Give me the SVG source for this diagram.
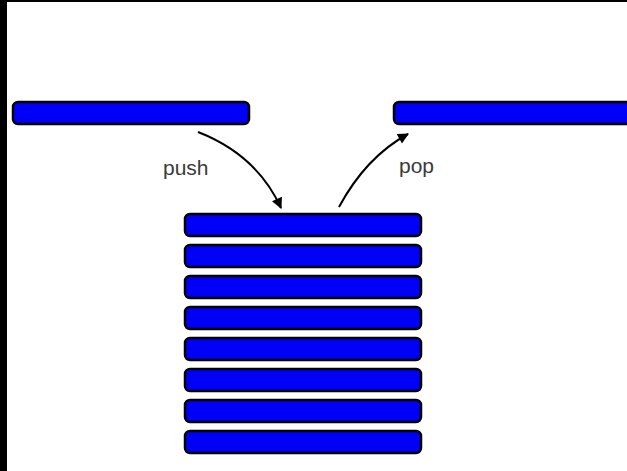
<svg xmlns="http://www.w3.org/2000/svg" width="627" height="471" viewBox="0 0 627 471">
  <style>
    .bar { fill: #0000f6; stroke: #000; stroke-width: 2.5; }
    .link { fill: none; stroke: #000; stroke-width: 2; }
    .label { font-family: "Liberation Sans", Arial, sans-serif; font-size: 21px; fill: #3a3a3a; }
  </style>
  <defs>
    <marker id="head" viewBox="0 0 10 10" refX="9" refY="5" markerWidth="6" markerHeight="5.5" markerUnits="strokeWidth" orient="auto">
      <path d="M0,0 L10,5 L0,10 Z" fill="#000"/>
    </marker>
  </defs>

  <!-- canvas and frame edges -->
  <rect x="0" y="0" width="627" height="471" fill="#fff"/>
  <rect x="0" y="0" width="627" height="2" fill="#000"/>
  <rect x="0" y="0" width="7" height="471" fill="#000"/>

  <!-- incoming item -->
  <g id="incoming">
    <rect class="bar" x="13" y="102" width="236" height="22" rx="5"/>
  </g>

  <!-- outgoing item -->
  <g id="outgoing">
    <rect class="bar" x="394" y="102" width="245" height="22" rx="5"/>
  </g>

  <!-- the stack -->
  <g id="stack">
    <rect class="bar" x="185" y="214" width="236" height="22" rx="5"/>
    <rect class="bar" x="185" y="245" width="236" height="22" rx="5"/>
    <rect class="bar" x="185" y="276" width="236" height="22" rx="5"/>
    <rect class="bar" x="185" y="307" width="236" height="22" rx="5"/>
    <rect class="bar" x="185" y="338" width="236" height="22" rx="5"/>
    <rect class="bar" x="185" y="369" width="236" height="22" rx="5"/>
    <rect class="bar" x="185" y="400" width="236" height="22" rx="5"/>
    <rect class="bar" x="185" y="431" width="236" height="22" rx="5"/>
  </g>

  <!-- push / pop connectors -->
  <g id="connectors">
    <path id="push-link" class="link" d="M198,132 Q257,155 281,208" marker-end="url(#head)"/>
    <path id="pop-link" class="link" d="M339,207 Q366,157 408,134" marker-end="url(#head)"/>
  </g>

  <g id="labels">
    <text class="label" x="163" y="175">push</text>
    <text class="label" x="399" y="173">pop</text>
  </g>
</svg>
